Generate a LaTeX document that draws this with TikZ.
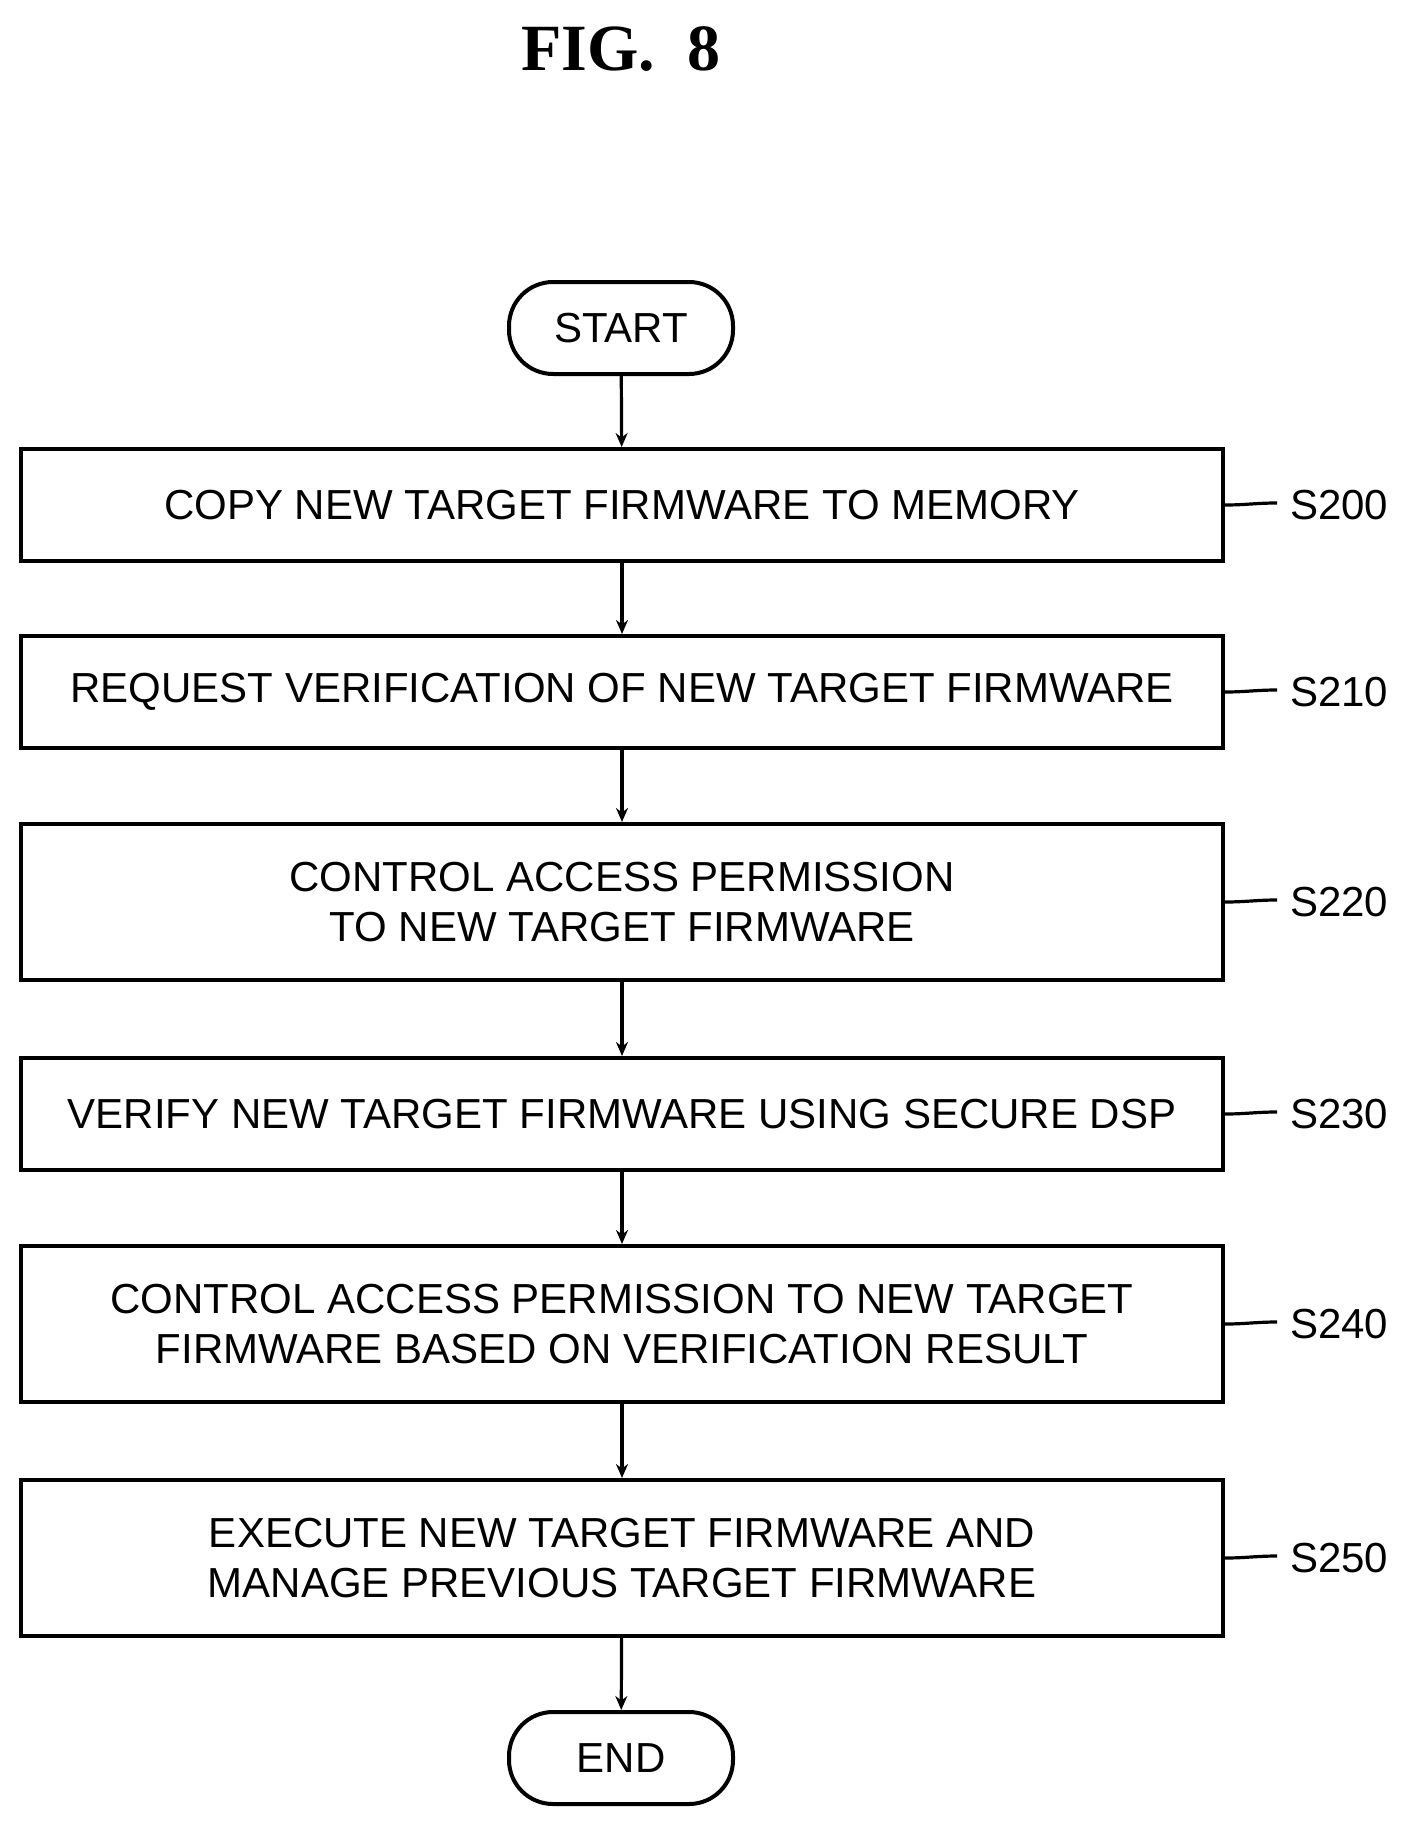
\documentclass[tikz,border=0pt]{standalone}
\usepackage{fontspec}
\setmainfont{Liberation Sans}
\newfontfamily\titlefont{Liberation Serif}
\usetikzlibrary{arrows.meta}
\begin{document}
\begin{tikzpicture}[x=0.5pt,y=-0.5pt,
  box/.style={draw,line width=2pt,minimum width=601pt,align=center,font=\fontsize{21}{25}\selectfont,inner sep=0pt},
  term/.style={draw,line width=2pt,rounded corners=22pt,minimum width=112pt,minimum height=46pt,font=\fontsize{21}{25}\selectfont},
  lbl/.style={font=\fontsize{21}{25}\selectfont,anchor=west},
  arr/.style={line width=1.6pt,-{Stealth[length=7pt,width=6pt]}},
  lead/.style={line width=1.6pt}]
\useasboundingbox (0,0) rectangle (1414,1830);
\node[font=\titlefont\bfseries\fontsize{33}{38}\selectfont] (title) at (621,49) {FIG.\ \ 8};
\node[term] (start) at (621,328) {START};
\node[box,minimum height=56pt] (s200) at (622,505) {COPY NEW TARGET FIRMWARE TO MEMORY};
\node[box,minimum height=56pt] (s210) at (622,692) {REQUEST VERIFICATION OF NEW TARGET FIRMWARE};
\node[box,minimum height=78pt] (s220) at (622,902) {CONTROL ACCESS PERMISSION\\TO NEW TARGET FIRMWARE};
\node[box,minimum height=56pt] (s230) at (622,1114) {VERIFY NEW TARGET FIRMWARE USING SECURE DSP};
\node[box,minimum height=78pt] (s240) at (622,1324) {CONTROL ACCESS PERMISSION TO NEW TARGET\\FIRMWARE BASED ON VERIFICATION RESULT};
\node[box,minimum height=78pt] (s250) at (622,1558) {EXECUTE NEW TARGET FIRMWARE AND\\MANAGE PREVIOUS TARGET FIRMWARE};
\node[term] (end) at (621,1758) {END};
\draw[arr] (start) -- (s200);
\draw[arr] (s200) -- (s210);
\draw[arr] (s210) -- (s220);
\draw[arr] (s220) -- (s230);
\draw[arr] (s230) -- (s240);
\draw[arr] (s240) -- (s250);
\draw[arr] (s250) -- (end);
\foreach \n/\t in {s200/S200,s210/S210,s220/S220,s230/S230,s240/S240,s250/S250}{
  \coordinate (c\n) at ([xshift=26pt]\n.east);
  \draw[lead] (\n.east) to[out=0,in=180] ([yshift=1pt]c\n);
  \node[lbl] (l\n) at ([xshift=3pt]c\n) {\t};
}
\end{tikzpicture}
\end{document}
